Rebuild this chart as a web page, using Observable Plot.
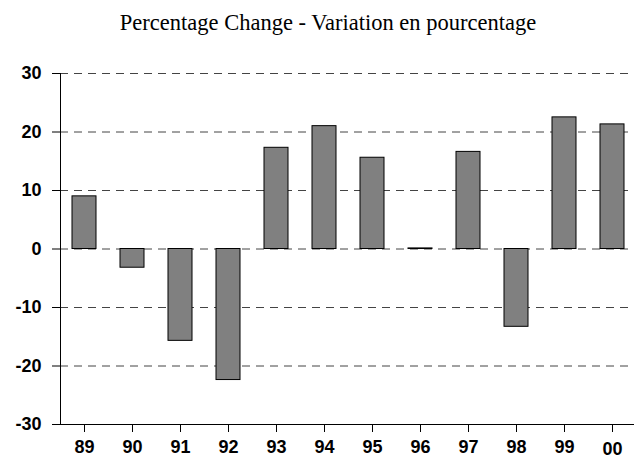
<!DOCTYPE html>
<html>
<head>
<meta charset="utf-8">
<script src="https://cdn.jsdelivr.net/npm/d3@7"></script>
<script src="https://cdn.jsdelivr.net/npm/@observablehq/plot@0.6"></script>
<style>
  html, body { margin: 0; padding: 0; background: #fff; }
  #wrap { width: 634px; height: 458px; position: relative; overflow: hidden; }
  #title { height: 45px; width: 634px; box-sizing: border-box; padding-left: 22px; text-align: center;
           font-family: "Liberation Serif", "Times New Roman", serif; font-size: 22.5px; line-height: 22px;
           padding-top: 12px; color: #000; }
  svg { display: block; overflow: hidden; }
</style>
</head>
<body>
<div id="wrap">
  <div id="title">Percentage Change - Variation en pourcentage</div>
  <div id="chart"></div>
</div>
<script>
const years = ["89","90","91","92","93","94","95","96","97","98","99","00"];
const values = [9.0, -3.2, -15.7, -22.4, 17.3, 21.0, 15.6, 0.1, 16.6, -13.3, 22.5, 21.3];
const yTicks = [-30, -20, -10, 0, 10, 20, 30];
const yTickLabels = ["-30", "-20", "-10", "0", "10", "20", "30"];
const gridValues = [-20, -10, 0, 10, 20, 30];

const data = years.map((y, i) => ({year: y, value: values[i]}));
const labelOf = new Map(yTicks.map((t, i) => [t, yTickLabels[i]]));

const chart = Plot.plot({
  width: 634,
  height: 413,
  marginTop: 28,
  marginBottom: 34,
  marginLeft: 60,
  marginRight: -2,
  style: {fontFamily: "'Liberation Sans', Arial, sans-serif", fontSize: "18px", fontWeight: "bold", color: "#000", background: "#fff"},
  x: {domain: years, paddingInner: 0.5, paddingOuter: 0.25, round: false, label: null},
  y: {domain: [-30, 30], label: null},
  marks: [
    Plot.ruleY(gridValues, {stroke: "#444", strokeDasharray: "8,6", strokeWidth: 1}),
    Plot.barY(data, {x: "year", y: "value", fill: "#808080", stroke: "#000", strokeWidth: 1}),
    Plot.ruleY([-30], {stroke: "#000", strokeWidth: 1}),
    Plot.frame({anchor: "left", stroke: "#000"}),
    Plot.axisY({ticks: yTicks, tickFormat: d => labelOf.get(d), tickSize: 8, tickPadding: 11, fontSize: 18, fontWeight: "bold", label: null}),
    Plot.axisX({ticks: years.slice(0, 11), tickSize: 8, tickPadding: 8, fontSize: 18, fontWeight: "bold", label: null}),
    Plot.axisX({ticks: years.slice(11), tickSize: 8, tickPadding: 10, fontSize: 18, fontWeight: "bold", label: null})
  ]
});
document.getElementById("chart").appendChild(chart);
</script>
</body>
</html>
